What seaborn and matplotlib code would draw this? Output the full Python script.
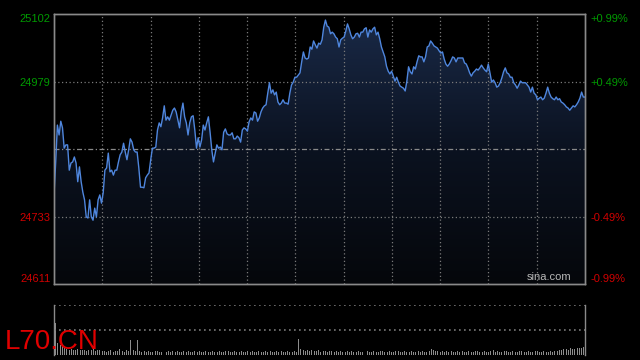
import numpy as np
import pandas as pd
import matplotlib
matplotlib.use("Agg")
import matplotlib.pyplot as plt
import seaborn as sns
from matplotlib.colors import LinearSegmentedColormap

# ---- data ----
prev_close = 24856
y_ticks = [25102, 24979, 24733, 24611]
pct_labels = ['+0.99%', '+0.49%', '-0.49%', '-0.99%']
tick_colors = ['#009a00', '#009a00', '#d00000', '#d00000']

prices = [
    24773, 24833, 24900, 24882, 24907, 24895, 24858, 24864, 24864, 24818,
    24831, 24833, 24842, 24831, 24797, 24824, 24797, 24778, 24764, 24733,
    24731, 24764, 24733, 24727, 24749, 24733, 24764, 24773, 24758, 24777,
    24818, 24822, 24849, 24815, 24818, 24809, 24818, 24818, 24833, 24846,
    24851, 24867, 24851, 24837, 24855, 24875, 24869, 24855, 24851, 24851,
    24822, 24787, 24787, 24786, 24804, 24809, 24813, 24837, 24858, 24858,
    24860, 24891, 24904, 24897, 24913, 24935, 24909, 24915, 24909, 24918,
    24927, 24931, 24924, 24909, 24895, 24924, 24940, 24915, 24904, 24882,
    24904, 24915,
    24917, 24891, 24858, 24877, 24860, 24873, 24900, 24891, 24904, 24915,
    24887, 24855, 24833, 24849, 24864, 24858, 24860, 24855, 24887, 24893,
    24884, 24882, 24882, 24886, 24875, 24875, 24880, 24877, 24869, 24891,
    24895, 24893, 24889, 24906, 24913, 24909, 24924, 24922, 24907, 24913,
    24924, 24931, 24935, 24937, 24958, 24977, 24958, 24964, 24955, 24960,
    24942, 24937, 24940, 24946, 24940, 24940, 24938, 24958, 24973, 24978,
    24987, 24987, 24991, 24995, 25015, 25033, 25022, 25020, 25022, 25042,
    25038, 25053, 25046, 25040, 25049, 25047, 25055,
    25078, 25091, 25080, 25078, 25066, 25069, 25066, 25060, 25057, 25042,
    25055, 25058, 25060, 25071, 25084, 25075, 25064, 25057, 25060, 25066,
    25067, 25060, 25069, 25069, 25075, 25077, 25060, 25073, 25069, 25075,
    25078, 25064, 25069, 25057, 25042, 25033, 25024, 25007, 24998, 24993,
    24998, 24989, 24980, 24987, 24978, 24971, 24969, 24967, 24962, 24980,
    25006, 24997, 24993, 25006, 25002, 25015, 25026, 25024, 25024, 25015,
    25024, 25042, 25044, 25053, 25049, 25044, 25042, 25040, 25035, 25031,
    25033, 25020, 25011, 25007, 25011, 25017, 25024,
    25022, 25015, 25022, 25022, 25022, 25022, 25013, 25011, 25004, 24995,
    24989, 24995, 24998, 25002, 25000, 25004, 25009, 25004, 25000, 24997,
    25011, 24995, 24978, 24982, 24977, 24969, 24971, 24977, 24986, 24997,
    25004, 24995, 24993, 24987, 24987, 24977, 24973, 24967, 24973, 24980,
    24977, 24977, 24977, 24973, 24969, 24960, 24969, 24958, 24955, 24946,
    24949, 24951, 24946, 24949, 24958, 24969, 24958, 24951, 24948, 24946,
    24951, 24946, 24948, 24942, 24940, 24937, 24933, 24931, 24927, 24931,
    24935, 24933, 24937, 24942, 24949, 24960, 24951, 24951,
]

volumes = [
    960, 360, 300, 270, 240,
    180, 150, 180, 165, 150, 180, 150, 165, 150, 135, 165, 150, 180, 135, 150, 165,
    120, 135, 105, 120, 150, 105, 120, 135, 180, 120, 105, 150, 120,
    450, 150, 120, 450,
    120, 105, 135, 90, 120, 105, 90, 120, 135, 105, 90, 120, 105, 120, 90, 135,
    105, 120, 90, 105, 120, 90, 135,
    105, 90, 120, 105, 135, 90, 105, 120, 90, 105, 135, 105, 90, 120, 105, 90,
    120, 135, 105, 90, 120, 90, 105, 120, 105, 90, 135, 105, 120, 90, 105, 120,
    90, 105, 135, 90, 120, 105, 90, 120, 105, 135, 90, 105, 120, 90, 105, 120, 90,
    480,
    180, 150, 135, 150, 120, 165, 135, 120, 150, 105, 135, 120, 105, 135, 120, 90,
    120, 105, 135, 105,
    90, 120, 105, 135, 90, 105, 120, 90, 105, 120, 135, 90, 105, 120, 90, 105,
    135, 120, 90, 105, 120, 90, 105, 120, 135, 90, 105, 120, 90, 105, 120, 105,
    90, 135, 105, 120, 90, 105, 120,
    195,
    150, 120, 135, 105, 120, 90, 135, 105, 120, 105, 90, 120, 105, 135, 90, 105,
    120, 90, 105, 120, 135, 90, 105, 120, 90, 105, 120,
    165,
    105, 120, 90, 105, 120, 135, 90, 105, 120, 90, 105, 135, 120, 90, 105, 120,
    90, 105, 120, 135, 90, 105, 120, 90, 105, 120, 105, 135, 120, 150,
    150, 180, 195, 165, 210, 195, 180, 210, 210, 225, 240,
]
vol_max = 1500
symbol = 'L70.CN'

sns.set_theme(style='dark', rc={'axes.facecolor': 'black',
                                'figure.facecolor': 'black'})
plt.rcParams['font.family'] = ['Liberation Sans', 'DejaVu Sans']

grid_col = '#7a7a7a'
dotted = (0, (1, 2))

fig = plt.figure(figsize=(6.4, 3.6), dpi=100, facecolor='black')
ax = fig.add_axes([54/640, 76/360, 531/640, 270/360])
axv = fig.add_axes([54/640, 5/360, 531/640, 50/360])

# ---- price panel ----
df = pd.DataFrame({'t': np.arange(len(prices)), 'price': prices})
n = len(df)
ymin, ymax = min(y_ticks), max(y_ticks)
ax.set_xlim(0, n - 1)
ax.set_ylim(ymin, ymax)

grad = np.linspace(0, 1, 256).reshape(-1, 1)
cmap = LinearSegmentedColormap.from_list('fade', ['#05070b', '#0b1220', '#1a2a48'])
im = ax.imshow(grad, aspect='auto', cmap=cmap, origin='lower',
               extent=[0, n - 1, ymin, ymax], zorder=1)
poly = ax.fill_between(df['t'], df['price'], ymin, color='none', lw=0)
im.set_clip_path(poly.get_paths()[0], transform=ax.transData)

for k in range(1, 11):
    ax.axvline(k * (n - 1) / 11, color=grid_col, lw=0.9, ls=dotted, zorder=2)
for v in y_ticks[1:3]:
    ax.axhline(v, color=grid_col, lw=0.9, ls=dotted, zorder=2)
ax.axhline(prev_close, color='#8a8a8a', lw=0.9, ls=(0, (4, 2, 1, 2)), zorder=2)

sns.lineplot(data=df, x='t', y='price', ax=ax, color='#4f86dd', lw=1.0, zorder=3)
ax.set_xlabel('')
ax.set_ylabel('')
ax.set_xticks([])
ax.grid(False)

ax.set_yticks(y_ticks)
ax.set_yticklabels([str(v) for v in y_ticks])
ax.tick_params(axis='y', length=0, pad=2.5, labelsize=8)
for lab, c in zip(ax.get_yticklabels(), tick_colors):
    lab.set_color(c)
labs = ax.get_yticklabels()
labs[0].set_va('top')
labs[-1].set_va('bottom')

axr = ax.twinx()
axr.set_ylim(ymin, ymax)
axr.set_yticks(y_ticks)
axr.set_yticklabels(pct_labels)
axr.tick_params(axis='y', length=0, pad=4, labelsize=8)
for lab, c in zip(axr.get_yticklabels(), tick_colors):
    lab.set_color(c)
rl = axr.get_yticklabels()
rl[0].set_va('top')
rl[-1].set_va('bottom')
axr.grid(False)

for a in (ax, axr):
    for s in a.spines.values():
        s.set_color('#8a8a8a')
        s.set_linewidth(1)

ax.text(0.975, 0.006, 'sina.com', transform=ax.transAxes, ha='right',
        va='bottom', color='#b8b8b8', fontsize=8, zorder=4)

# ---- volume panel ----
vdf = pd.DataFrame({'i': np.arange(len(volumes)), 'vol': volumes})
sns.barplot(data=vdf, x='i', y='vol', ax=axv, color='#8c8c8c',
            saturation=1, width=0.45, linewidth=0)
axv.set_xlim(-0.8, len(volumes) - 0.4)
axv.set_ylim(0, vol_max)
axv.set_xticks([])
axv.set_yticks([])
axv.set_xlabel('')
axv.set_ylabel('')
axv.grid(False)
axv.axhline(vol_max, color=grid_col, lw=1.2, ls=dotted)
axv.axhline(vol_max / 2, color=grid_col, lw=1.2, ls=dotted)
axv.spines['top'].set_visible(False)
axv.spines['bottom'].set_visible(False)
for s in ('left', 'right'):
    axv.spines[s].set_color('#8a8a8a')
    axv.spines[s].set_linewidth(1)

fig.text(5/640, 11/360, symbol, color='#e00000', fontsize=20,
         ha='left', va='baseline')

fig.savefig('out.png', dpi=100, facecolor='black')
